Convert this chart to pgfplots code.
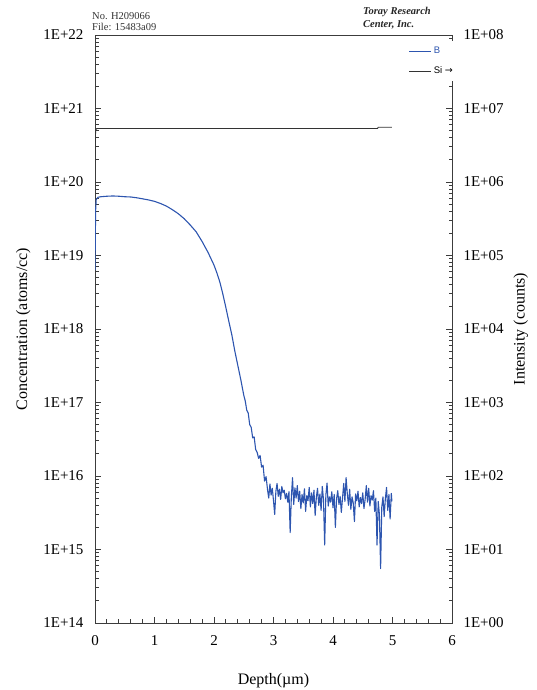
\documentclass[border=0pt]{standalone}
\usepackage{fontspec}
\setmainfont{Liberation Serif}
\setsansfont{Liberation Sans}
\newfontfamily\symfont{DejaVu Sans}
\usepackage{pgfplots}
\pgfplotsset{compat=1.18}
\usetikzlibrary{calc}

\definecolor{bblue}{RGB}{45,85,175}
\definecolor{axgray}{RGB}{60,60,60}

% B profile (atoms/cc)
\pgfplotstableread{
x y
0.000 6.3e18
0.005 1.6e19
0.010 4.0e19
0.020 5.75e19
0.050 6.2e19
0.100 6.3e19
0.200 6.4e19
0.300 6.45e19
0.400 6.4e19
0.500 6.3e19
0.600 6.25e19
0.700 6.1e19
0.800 5.9e19
0.900 5.7e19
1.000 5.45e19
1.100 5.1e19
1.200 4.7e19
1.300 4.2e19
1.400 3.7e19
1.500 3.16e19
1.600 2.6e19
1.700 2.1e19
1.800 1.55e19
1.900 1.1e19
2.000 7.4e18
2.050 5.75e18
2.100 4.3e18
2.150 2.95e18
2.200 1.95e18
2.250 1.26e18
2.300 8.3e17
2.350 5.0e17
2.400 3.2e17
2.450 2.05e17
2.500 1.26e17
2.525 1.05e17
2.550 7.9e16
2.575 7.2e16
2.600 5.0e16
2.625 4.6e16
2.650 3.3e16
2.675 3.4e16
2.700 2.3e16
2.725 2.1e16
2.750 1.74e16
2.775 1.9e16
2.800 1.32e16
2.825 1.4e16
2.850 8.5e15
2.875 9.8e15
2.900 6.5e15
2.920 5.0e15
2.940 7.8e15
2.960 5.5e15
2.980 6.8e15
3.000 4.6e15
3.020 3.0e15
3.040 6.2e15
3.060 7.9e15
3.080 5.3e15
3.100 6.6e15
3.120 4.8e15
3.140 7.2e15
3.160 5.9e15
3.180 6.4e15
3.200 4.9e15
3.220 5.8e15
3.240 4.4e15
3.260 6.1e15
3.280 1.7e15
3.300 5.2e15
3.320 9.5e15
3.340 4.1e15
3.360 6.9e15
3.380 5.0e15
3.400 7.4e15
3.420 4.5e15
3.440 6.2e15
3.460 3.6e15
3.480 5.6e15
3.500 4.3e15
3.520 6.7e15
3.540 3.3e15
3.560 5.4e15
3.580 4.6e15
3.600 7.0e15
3.620 3.8e15
3.640 5.9e15
3.660 4.2e15
3.680 6.4e15
3.700 2.9e15
3.720 5.1e15
3.740 6.8e15
3.760 4.0e15
3.780 5.7e15
3.800 3.4e15
3.820 7.2e15
3.840 4.8e15
3.860 1.15e15
3.880 5.5e15
3.900 8.0e15
3.920 3.9e15
3.940 5.2e15
3.960 4.4e15
3.980 6.1e15
4.000 3.7e15
4.020 5.6e15
4.040 2.0e15
4.060 4.9e15
4.080 6.3e15
4.100 4.1e15
4.120 5.3e15
4.140 3.2e15
4.160 5.0e15
4.180 7.9e15
4.200 4.5e15
4.220 9.5e15
4.240 5.8e15
4.260 4.0e15
4.280 6.6e15
4.300 3.5e15
4.320 5.2e15
4.340 4.3e15
4.360 2.4e15
4.380 5.7e15
4.400 4.6e15
4.420 6.2e15
4.440 3.8e15
4.460 5.1e15
4.480 4.2e15
4.500 5.9e15
4.520 3.6e15
4.540 4.8e15
4.560 7.4e15
4.580 4.4e15
4.600 6.8e15
4.620 3.9e15
4.640 5.4e15
4.660 4.7e15
4.680 6.3e15
4.700 3.3e15
4.720 5.0e15
4.740 1.15e15
4.760 4.5e15
4.780 3.0e15
4.800 5.5e14
4.820 3.8e15
4.840 5.2e15
4.860 2.8e15
4.880 4.9e15
4.900 7.0e15
4.920 3.4e15
4.940 5.6e15
4.960 2.6e15
4.980 5.8e15
4.990 4.5e15
}\tableB

% Si intensity (counts)
\pgfplotstableread{
x y
0.000 2.2e6
0.005 3.5e6
0.010 4.8e6
0.020 5.3e6
0.050 5.35e6
1.000 5.35e6
2.000 5.35e6
3.000 5.35e6
4.000 5.35e6
4.750 5.35e6
4.760 5.55e6
4.990 5.55e6
}\tableSi

\begin{document}
\begin{tikzpicture}
\begin{axis}[
  name=main,
  scale only axis, width=357pt, height=588pt,
  xmin=0, xmax=6,
  axis line style={axgray, line width=0.9pt},
  every tick/.style={axgray, line width=0.9pt},
  major tick length=6pt, minor tick length=3.5pt,
  tick align=inside,
  tick label style={font=\fontsize{15}{17}\selectfont},
  label style={font=\fontsize{16}{18}\selectfont},
  /pgf/number format/assume math mode=true,
  ymode=log, log basis y=10,
  ymin=1e14, ymax=1e22,
  ytick={1e14,1e15,1e16,1e17,1e18,1e19,1e20,1e21,1e22},
  yticklabels={1E+14,1E+15,1E+16,1E+17,1E+18,1E+19,1E+20,1E+21,1E+22},
  extra y ticks={2e14,3e14,4e14,5e14,6e14,7e14,8e14,9e14,
    2e15,3e15,4e15,5e15,6e15,7e15,8e15,9e15,
    2e16,3e16,4e16,5e16,6e16,7e16,8e16,9e16,
    2e17,3e17,4e17,5e17,6e17,7e17,8e17,9e17,
    2e18,3e18,4e18,5e18,6e18,7e18,8e18,9e18,
    2e19,3e19,4e19,5e19,6e19,7e19,8e19,9e19,
    2e20,3e20,4e20,5e20,6e20,7e20,8e20,9e20,
    2e21,3e21,4e21,5e21,6e21,7e21,8e21,9e21},
  extra y tick labels={},
  extra y tick style={major tick length=3.5pt},
  yticklabel style={xshift=-8pt},
  xticklabel style={yshift=-9pt},
  xtick={0,1,2,3,4,5,6},
  minor x tick num=4,
  xtick pos=bottom, ytick pos=left,
  xlabel={Depth(\textmu m)},
  ylabel={Concentration (atoms/cc)},
  xlabel style={yshift=-21pt},
  ylabel style={yshift=6pt},
]
\addplot[bblue, line width=1.1pt, line join=round] table[x=x,y=y]{\tableB};
\end{axis}
\begin{axis}[
  scale only axis, width=357pt, height=588pt,
  xmin=0, xmax=6,
  axis line style={axgray, line width=0.9pt},
  every tick/.style={axgray, line width=0.9pt},
  major tick length=6pt, minor tick length=3.5pt,
  tick align=inside,
  tick label style={font=\fontsize{15}{17}\selectfont},
  label style={font=\fontsize{16}{18}\selectfont},
  axis x line=none,
  axis y line*=right,
  ymode=log, log basis y=10,
  ymin=1, ymax=1e8,
  ytick={1,10,100,1e3,1e4,1e5,1e6,1e7,1e8},
  yticklabels={1E+00,1E+01,1E+02,1E+03,1E+04,1E+05,1E+06,1E+07,1E+08},
  extra y ticks={2,3,4,5,6,7,8,9,
    20,30,40,50,60,70,80,90,
    200,300,400,500,600,700,800,900,
    2e3,3e3,4e3,5e3,6e3,7e3,8e3,9e3,
    2e4,3e4,4e4,5e4,6e4,7e4,8e4,9e4,
    2e5,3e5,4e5,5e5,6e5,7e5,8e5,9e5,
    2e6,3e6,4e6,5e6,6e6,7e6,8e6,9e6,
    2e7,3e7,4e7,5e7,6e7,7e7,8e7,9e7},
  extra y tick labels={},
  extra y tick style={major tick length=3.5pt},
  yticklabel style={xshift=8pt},
  ylabel={Intensity (counts)},
  ylabel style={yshift=-3pt},
  legend style={draw=none, fill=white, at={(1.02,0.99)}, anchor=north east,
    font=\fontsize{9.5}{11}\selectfont\sffamily, row sep=8pt, inner sep=4pt,
    cells={anchor=west}},
  legend image code/.code={\draw[#1] (0pt,0pt) -- (22pt,0pt);},
]
\addlegendimage{bblue, line width=1pt}
\addlegendentry{\textcolor{bblue}{B}}
\addplot[black!80, line width=0.9pt] table[x=x,y=y]{\tableSi};
\addlegendentry{Si {\symfont →}}
\end{axis}
\node[anchor=base west, font=\fontsize{10.5}{12}\selectfont, text=black!80, inner sep=0pt]
  at ($(main.north west)+(-3pt,15pt)$) {No. H209066};
\node[anchor=base west, font=\fontsize{10.5}{12}\selectfont, text=black!80, inner sep=0pt]
  at ($(main.north west)+(-3pt,4pt)$) {File: 15483a09};
\node[anchor=base west, font=\fontsize{10.5}{12}\selectfont\bfseries\itshape, text=black!85, inner sep=0pt]
  at ($(main.north east)+(-89pt,20pt)$) {Toray Research};
\node[anchor=base west, font=\fontsize{10.5}{12}\selectfont\bfseries\itshape, text=black!85, inner sep=0pt]
  at ($(main.north east)+(-89pt,7pt)$) {Center, Inc.};
\pgfresetboundingbox
\path ($(main.south west)+(-95pt,-67pt)$) rectangle ($(main.north east)+(84pt,35pt)$);
\end{tikzpicture}
\end{document}
